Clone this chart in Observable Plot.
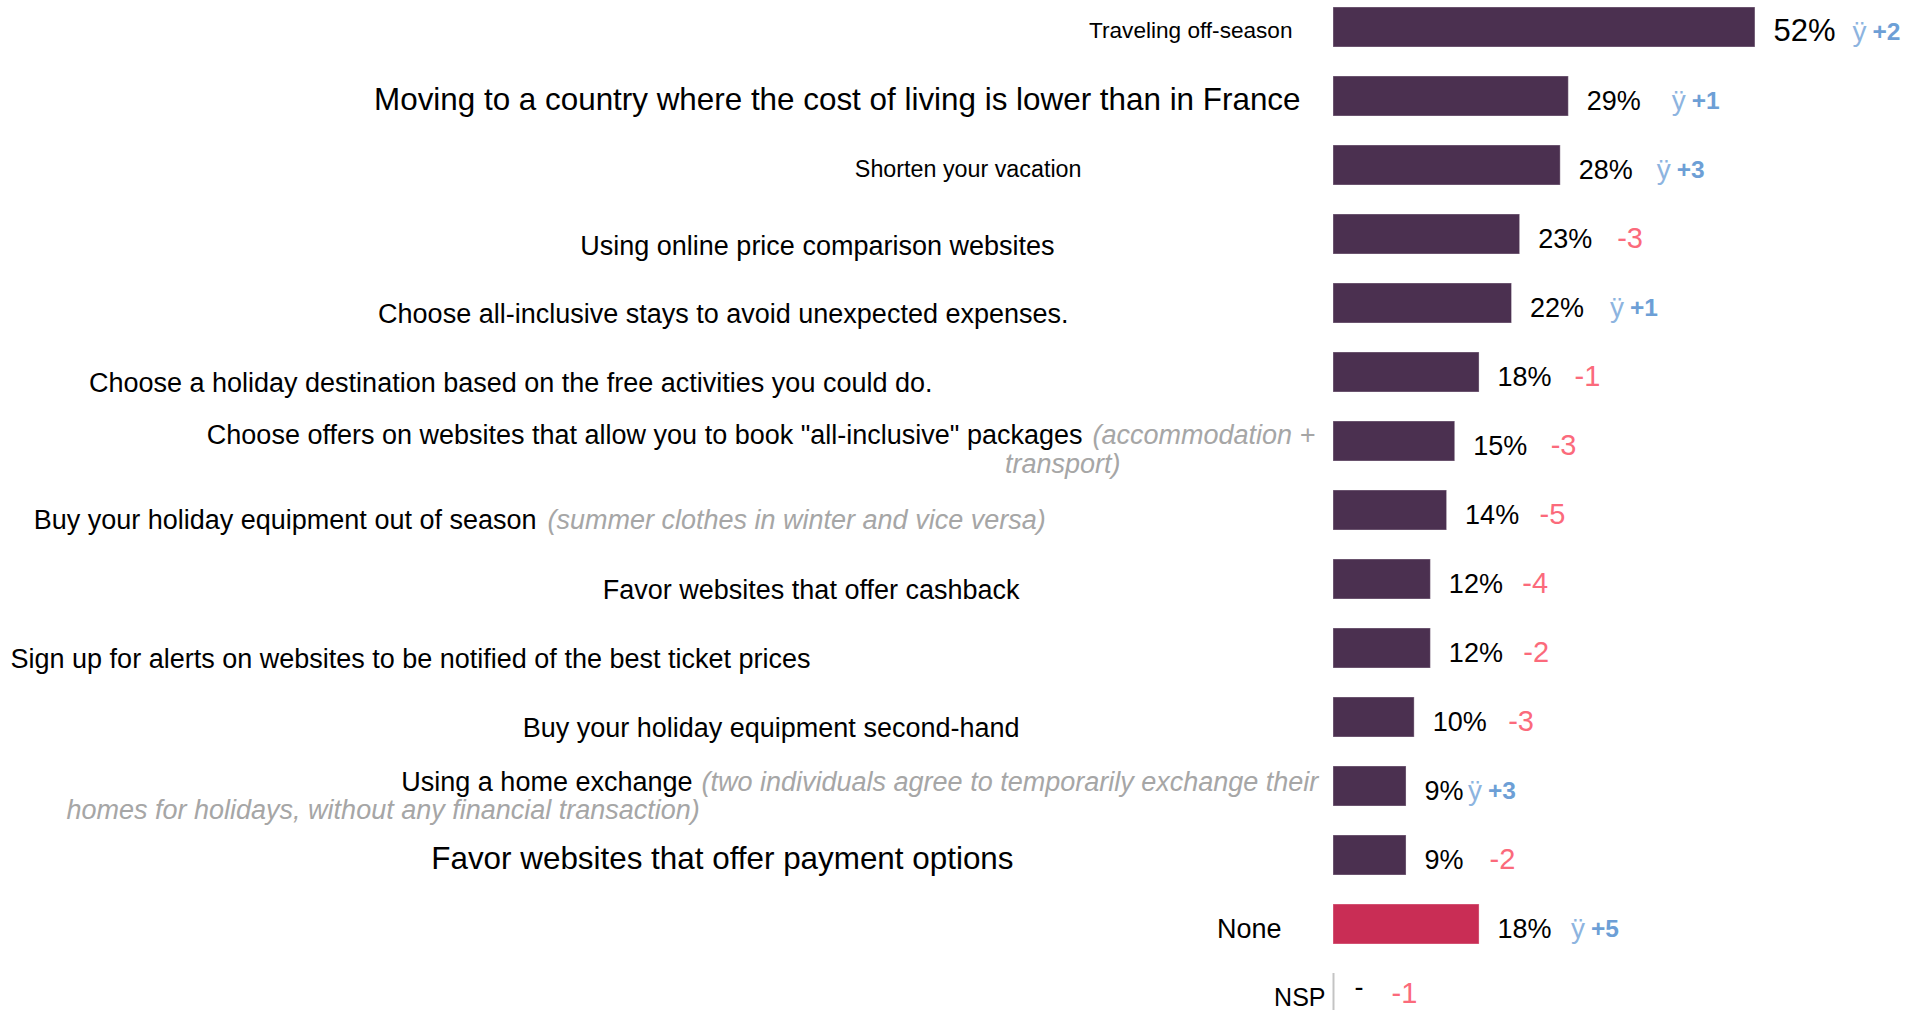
<!DOCTYPE html>
<html>
<head>
<meta charset="utf-8">
<script src="https://cdn.jsdelivr.net/npm/d3@7"></script>
<script src="https://cdn.jsdelivr.net/npm/@observablehq/plot@0.6"></script>
<style>
  html, body { margin: 0; padding: 0; background: #fff; overflow: hidden; }
  #chart svg { display: block; }
</style>
</head>
<body>
<div id="chart"></div>
<script>
// ---------- DATA ----------
const labels = [
  "Traveling off-season",
  "Moving to a country where the cost of living is lower than in France",
  "Shorten your vacation",
  "Using online price comparison websites",
  "Choose all-inclusive stays to avoid unexpected expenses.",
  "Choose a holiday destination based on the free activities you could do.",
  "Choose offers on websites that allow you to book \"all-inclusive\" packages",
  "Buy your holiday equipment out of season",
  "Favor websites that offer cashback",
  "Sign up for alerts on websites to be notified of the best ticket prices",
  "Buy your holiday equipment second-hand",
  "Using a home exchange",
  "Favor websites that offer payment options",
  "None",
  "NSP"
];
const notes = [
  "", "", "", "", "", "",
  "(accommodation +\ntransport)",
  "(summer clothes in winter and vice versa)",
  "", "", "",
  "(two individuals agree to temporarily exchange their\nhomes for holidays, without any financial transaction)",
  "", "", ""
];
const values = [52, 29, 28, 23, 22, 18, 15, 14, 12, 12, 10, 9, 9, 18, null];
const valueLabels = ["52%", "29%", "28%", "23%", "22%", "18%", "15%", "14%", "12%", "12%", "10%", "9%", "9%", "18%", "-"];
const deltas = [2, 1, 3, -3, 1, -1, -3, -5, -4, -2, -3, 3, -2, 5, -1];
const groups = ["item","item","item","item","item","item","item","item","item","item","item","item","item","none","nsp"];
const upSymbol = "ÿ";

// ---------- LAYOUT / STYLE ----------
const font = "'Liberation Sans', Arial, Helvetica, sans-serif";
const purple = "#4b3050";
const crimson = "#c92d55";
const grayNote = "#a6a6a6";
const blueSym = "#8db4df";
const blueNum = "#6d9fd6";
const redNum = "#fb6a7b";

const labelLayout = [
  {dx: -41,  dy: 3,  size: 22.6},
  {dx: -33,  dy: 3,  size: 31.4},
  {dx: -252, dy: 4,  size: 23.3},
  {dx: -279, dy: 12, size: 27},
  {dx: -265, dy: 11, size: 27},
  {dx: -401, dy: 11, size: 27},
  {dx: -251, dy: -6, size: 27, noteDx: -241, note2Dx: -213, note2Anchor: "end", note2Dy: 23},
  {dx: -797, dy: 10, size: 27, noteDx: -786},
  {dx: -314, dy: 11, size: 27},
  {dx: -523, dy: 11, size: 27},
  {dx: -314, dy: 11, size: 27},
  {dx: -641, dy: -4, size: 27, noteDx: -632, note2Dx: -1267, note2Anchor: "start", note2Dy: 24},
  {dx: -320, dy: 3,  size: 31.4},
  {dx: -52,  dy: 5,  size: 27},
  {dx: -8,   dy: 4,  size: 25}
];
const valueLayout = labels.map((_, i) => i === 0 ? {dx: 18, dy: 4, size: 31}
  : i === 14 ? {dx: 21, dy: -6, size: 27} : {dx: 18, dy: 5, size: 27});
const deltaDx = [98, 104, 97, 97, 99, 95, 95.5, 92.5, 91.5, 92.5, 93.5, 62.5, 83, 92.5, 58];

// ---------- BUILD ----------
const rows = labels.map((label, i) => ({
  label, note: notes[i], value: values[i], valueLabel: valueLabels[i],
  delta: deltas[i], group: groups[i]
}));

const marks = [];
marks.push(Plot.barX(rows.filter(d => d.value != null), {
  x: "value", y: "label", fill: "group", stroke: "#ffffff", strokeOpacity: 0.35, strokeWidth: 1
}));
marks.push(Plot.tickX(rows.filter(d => d.value == null), {
  x: () => 0, y: "label", stroke: "#c4c4c4", strokeWidth: 2
}));

rows.forEach((d, i) => {
  const L = labelLayout[i];
  marks.push(Plot.text([d], {
    x: () => 0, y: "label", text: "label", textAnchor: "end",
    dx: L.dx, dy: L.dy, fontSize: L.size, fill: "#000", fontFamily: font
  }));
  if (d.note) {
    const lines = d.note.split("\n");
    marks.push(Plot.text([d], {
      x: () => 0, y: "label", text: () => lines[0], textAnchor: "start",
      dx: L.noteDx, dy: L.dy, fontSize: L.size, fontStyle: "italic", fill: grayNote, fontFamily: font
    }));
    if (lines[1]) {
      marks.push(Plot.text([d], {
        x: () => 0, y: "label", text: () => lines[1], textAnchor: L.note2Anchor,
        dx: L.note2Dx, dy: L.note2Dy, fontSize: L.size, fontStyle: "italic", fill: grayNote, fontFamily: font
      }));
    }
  }
  const V = valueLayout[i];
  marks.push(Plot.text([d], {
    x: r => r.value ?? 0, y: "label", text: "valueLabel", textAnchor: "start",
    dx: V.dx, dy: V.dy, fontSize: V.size, fill: "#000", fontFamily: font
  }));
  if (d.delta > 0) {
    marks.push(Plot.text([d], {
      x: r => r.value ?? 0, y: "label", text: () => upSymbol, textAnchor: "start",
      dx: deltaDx[i] - 1, dy: 5, fontSize: 28, fill: blueSym, fontFamily: font
    }));
    marks.push(Plot.text([d], {
      x: r => r.value ?? 0, y: "label", text: r => "+" + r.delta, textAnchor: "start",
      dx: deltaDx[i] + 19, dy: 5, fontSize: 24.5, fontWeight: "bold", fill: blueNum, fontFamily: font
    }));
  } else {
    marks.push(Plot.text([d], {
      x: r => r.value ?? 0, y: "label", text: r => String(r.delta), textAnchor: "start",
      dx: deltaDx[i], dy: i === 14 ? 0 : 4, fontSize: 29, fill: redNum, fontFamily: font
    }));
  }
});

const chart = Plot.plot({
  width: 1906,
  height: 1010,
  marginLeft: 1333,
  marginRight: 5,
  marginTop: 0,
  marginBottom: 0,
  style: {background: "#fff", fontFamily: font, overflow: "visible"},
  x: {domain: [0, 70], axis: null},
  y: {domain: labels, range: [-22, 1042], padding: 0.42, axis: null},
  color: {domain: ["item", "none"], range: [purple, crimson]},
  marks
});
document.getElementById("chart").appendChild(chart);
</script>
</body>
</html>
